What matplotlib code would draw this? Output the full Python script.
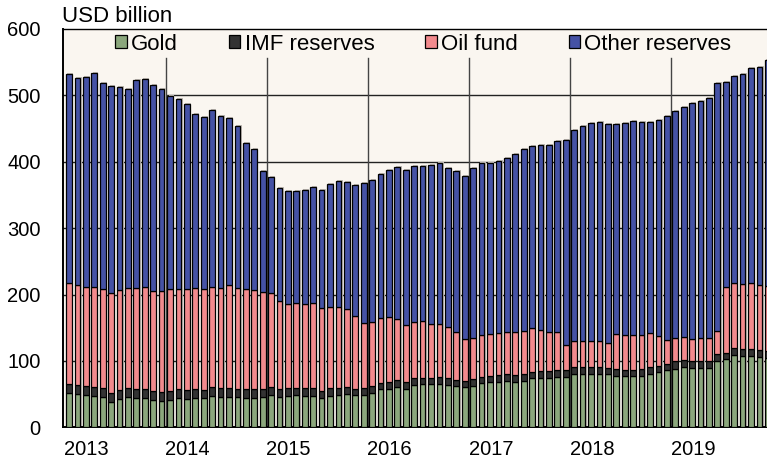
import numpy as np
import matplotlib
matplotlib.use("Agg")
import matplotlib.pyplot as plt

plt.rcParams["font.family"] = ["Liberation Sans", "DejaVu Sans"]

years = ["2013", "2014", "2015", "2016", "2017", "2018", "2019"]

# monthly values, Jan 2013 - Dec 2019, USD billion
gold = [51.2, 50.2, 49.2, 46.7, 45.2, 38.2, 42.2, 45.2, 43.7, 44.2, 41.2, 39.7,
        41.7, 43.7, 43.2, 44.7, 43.7, 46.7, 45.7, 45.7, 45.2, 44.7, 44.7, 46.2,
        48.7, 46.2, 47.2, 48.2, 47.7, 47.7, 44.7, 47.2, 48.2, 50.2, 48.2, 48.2,
        51.2, 57.2, 58.2, 60.2, 57.7, 63.5, 64.8, 64.8, 65.3, 63.8, 61.7, 60.2,
        62.8, 66.8, 67.8, 68.8, 69.3, 68.3, 69.8, 73.8, 73.8, 73.8, 75.3, 76.3,
        79.8, 80.3, 79.8, 80.8, 79.8, 77.8, 76.8, 76.8, 77.3, 80.8, 82.8, 86.3,
        88.4, 91.4, 89.9, 89.9, 89.9, 100.4, 102.4, 108.9, 107.4, 107.9, 105.4, 104.5]
imf = [14.6, 13.6, 13.6, 13.5, 13.5, 13.5, 13.5, 13.5, 14.0, 13.5, 13.0, 13.0,
       13.0, 14.0, 13.5, 13.5, 13.0, 13.5, 13.5, 13.0, 12.5, 13.0, 12.5, 11.5,
       11.5, 12.0, 11.5, 10.5, 11.0, 11.0, 10.5, 11.5, 11.5, 11.0, 10.0, 10.5,
       10.5, 10.1, 10.1, 10.6, 10.6, 10.3, 10.0, 10.0, 10.0, 10.0, 9.6, 10.1,
       10.0, 9.5, 9.5, 10.0, 10.5, 10.5, 10.5, 9.5, 10.5, 10.5, 11.0, 9.5,
       10.6, 10.1, 10.6, 9.6, 10.1, 10.1, 10.0, 10.0, 10.0, 9.6, 10.1, 9.6,
       11.0, 10.5, 10.0, 10.5, 10.5, 10.5, 10.0, 11.1, 10.6, 10.6, 10.6, 10.5]
oil = [152.1, 150.1, 149.0, 150.6, 149.1, 150.1, 151.1, 150.6, 151.6, 154.1, 151.6, 152.1,
       153.6, 151.1, 151.6, 152.1, 151.1, 151.1, 150.1, 155.2, 152.3, 150.1, 149.6, 146.6,
       141.6, 131.6, 126.5, 128.0, 127.0, 128.5, 124.0, 122.0, 122.0, 116.5, 109.5, 97.9,
       97.4, 97.4, 98.4, 92.9, 86.3, 85.3, 85.8, 80.3, 79.8, 77.8, 72.8, 62.2,
       62.2, 62.3, 62.8, 62.8, 63.8, 64.3, 64.8, 65.8, 62.3, 59.3, 57.8, 38.7,
       39.1, 39.1, 39.6, 39.6, 37.6, 52.2, 51.8, 51.8, 51.3, 51.2, 44.1, 35.1,
       34.6, 34.6, 33.6, 33.6, 33.6, 33.7, 98.4, 97.9, 97.4, 98.4, 98.4, 98.0]
other = [313.7, 312.1, 315.8, 322.2, 310.2, 311.7, 306.2, 300.2, 313.3, 312.2, 309.8, 304.7,
         290.2, 285.2, 278.1, 262.1, 259.6, 267.1, 259.7, 251.5, 244.3, 220.4, 211.9, 181.3,
         174.7, 170.2, 171.2, 169.2, 171.3, 174.2, 178.8, 185.8, 189.8, 191.8, 197.3, 211.9,
         212.9, 216.3, 220.3, 227.9, 233.4, 233.9, 233.4, 240.4, 242.5, 239.0, 241.5, 245.5,
         255.0, 259.0, 257.5, 259.4, 262.4, 268.9, 273.6, 275.1, 278.1, 281.1, 287.6, 308.2,
         317.8, 324.3, 328.3, 329.8, 329.3, 316.7, 319.7, 322.2, 320.7, 318.2, 325.4, 337.4,
         341.9, 346.5, 354.5, 357.0, 361.5, 374.0, 309.2, 311.1, 316.2, 323.8, 327.8, 341.0]

series = [
    ("Gold", gold, "#8BA77C"),
    ("IMF reserves", imf, "#333333"),
    ("Oil fund", oil, "#F28A8D"),
    ("Other reserves", other, "#4552A5"),
]

x = np.arange(len(gold))
width = 0.68

fig = plt.figure(figsize=(7.67, 4.66), dpi=100)
ax = fig.add_axes([63 / 767, 38.7 / 466, 704 / 767, 398.3 / 466])
ax.set_facecolor("#FAF6F0")

# soft shadow behind every bar
total = np.sum([s[1] for s in series], axis=0)
ax.bar(x + 0.16, total + 1.5, width, color="#BDB8B2", linewidth=0, zorder=1.5)

bottom = np.zeros(len(x))
handles = []
for name, vals, color in series:
    bars = ax.bar(x, vals, width, bottom=bottom, color=color, edgecolor="black",
                  linewidth=0.9, label=name, zorder=3)
    handles.append(bars)
    bottom += np.array(vals)

for y in range(100, 600, 100):
    ax.axhline(y, color="#222222", linewidth=1.0, zorder=1)
for k in range(1, len(years)):
    ax.plot([12 * k - 0.5] * 2, [0, 556], color="#444444", linewidth=1.0, zorder=1)

ax.set_xlim(-0.71, 82.9)
ax.set_ylim(0, 600)
ax.set_yticks(range(0, 601, 100))
ax.set_xticks([12 * k + 2.1 for k in range(len(years))])
ax.set_xticklabels(years)
ax.tick_params(axis="both", length=0, labelsize=14.5)
ax.tick_params(axis="y", pad=16)
ax.tick_params(axis="x", pad=9)

ax.spines["right"].set_visible(False)
ax.spines["left"].set_linewidth(1.4)
ax.spines["bottom"].set_linewidth(1.4)
ax.spines["top"].set_linewidth(1.0)

ax.text(-0.002, 1.004, "USD billion", transform=ax.transAxes, fontsize=16,
        ha="left", va="bottom")

ax.legend(handles=handles, ncol=4, frameon=False, loc="center",
          bbox_to_anchor=(0.512, 0.962), fontsize=16, handlelength=0.5,
          handleheight=0.5, handletextpad=0.2, columnspacing=2.3,
          borderaxespad=0)

fig.savefig("out.png", dpi=100, facecolor="white")
